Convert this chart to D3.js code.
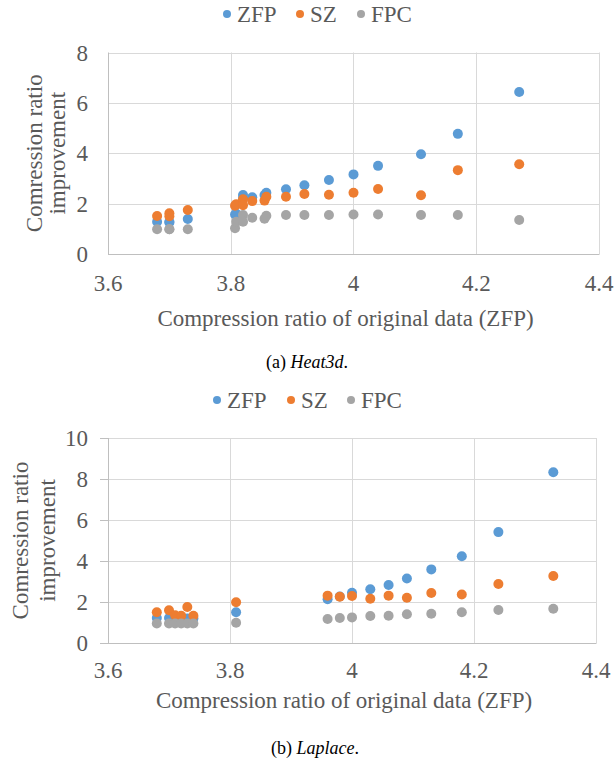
<!DOCTYPE html>
<html>
<head>
<meta charset="utf-8">
<script src="https://cdn.jsdelivr.net/npm/d3@7/dist/d3.min.js"></script>
<style>
  html, body { margin: 0; padding: 0; background: #fff; }
  svg { display: block; }
  text { font-family: "Liberation Serif", "Times New Roman", serif; }
</style>
</head>
<body>
<script>
// ---------- DATA ----------
const seriesNames = ["ZFP", "SZ", "FPC"];
const seriesColors = ["#5B9BD5", "#ED7D31", "#A5A5A5"];
const xTicks = [3.6, 3.8, 4.0, 4.2, 4.4];
const xTickLabels = ["3.6", "3.8", "4", "4.2", "4.4"];

// (a) Heat3d
const heatX   = [3.68, 3.70, 3.70, 3.73, 3.807, 3.809, 3.82, 3.82, 3.835, 3.855, 3.858, 3.89, 3.92, 3.96, 4.00, 4.04, 4.11, 4.17, 4.27];
const heatZFP = [1.28, 1.25, 1.28, 1.39, 1.57, 1.60, 2.34, 2.20, 2.25, 2.34, 2.43, 2.57, 2.73, 2.94, 3.16, 3.50, 3.96, 4.77, 6.43];
const heatSZ  = [1.51, 1.62, 1.50, 1.75, 1.92, 1.98, 2.17, 1.94, 2.10, 2.12, 2.27, 2.27, 2.38, 2.35, 2.43, 2.58, 2.33, 3.33, 3.56];
const heatFPC = [0.98, 0.98, 0.98, 0.98, 1.02, 1.28, 1.55, 1.28, 1.44, 1.40, 1.52, 1.55, 1.55, 1.55, 1.57, 1.57, 1.55, 1.55, 1.35];
const heatYTicks = [0, 2, 4, 6, 8];

// (b) Laplace
const lapX   = [3.68, 3.70, 3.71, 3.72, 3.73, 3.74, 3.81, 3.96, 3.98, 4.00, 4.03, 4.06, 4.09, 4.13, 4.18, 4.24, 4.33];
const lapZFP = [1.22, 1.22, 1.20, 1.20, 1.20, 1.20, 1.50, 2.13, 2.27, 2.45, 2.62, 2.83, 3.15, 3.59, 4.23, 5.41, 8.33];
const lapSZ  = [1.50, 1.60, 1.35, 1.33, 1.76, 1.33, 1.99, 2.31, 2.26, 2.29, 2.16, 2.31, 2.21, 2.44, 2.37, 2.88, 3.27];
const lapFPC = [0.95, 0.95, 0.95, 0.95, 0.95, 0.95, 0.99, 1.17, 1.22, 1.25, 1.32, 1.33, 1.40, 1.43, 1.50, 1.61, 1.67];
const lapYTicks = [0, 2, 4, 6, 8, 10];

const xTitle = "Compression ratio of original data (ZFP)";
const yTitleLines = ["Comression ratio", "improvement"];

// ---------- DRAW ----------
const W = 615, H = 769;
const svg = d3.select("body").append("svg").attr("width", W).attr("height", H);
const textColor = "#595959";
const gridColor = "#D9D9D9";
const axisColor = "#BFBFBF";
const fontSize = 23;

function drawChart(cfg) {
  const g = svg.append("g");
  const x = d3.scaleLinear().domain([3.6, 4.4]).range([cfg.left, cfg.right]);
  const y = d3.scaleLinear().domain([0, cfg.yMax]).range([cfg.bottom, cfg.top]);

  // horizontal gridlines
  g.append("g").selectAll("line").data(cfg.yTicks.filter(v => v > 0)).join("line")
    .attr("x1", cfg.left).attr("x2", cfg.right)
    .attr("y1", d => Math.round(y(d)) + 0.5).attr("y2", d => Math.round(y(d)) + 0.5)
    .attr("stroke", gridColor).attr("stroke-width", 1);
  // vertical gridlines
  g.append("g").selectAll("line").data(xTicks.filter(v => v > 3.6)).join("line")
    .attr("x1", d => Math.round(x(d)) + 0.5).attr("x2", d => Math.round(x(d)) + 0.5)
    .attr("y1", cfg.top).attr("y2", cfg.bottom)
    .attr("stroke", gridColor).attr("stroke-width", 1);
  // axis lines
  g.append("line").attr("x1", Math.round(cfg.left) + 0.5).attr("x2", Math.round(cfg.left) + 0.5)
    .attr("y1", cfg.top).attr("y2", cfg.bottom + 0.5).attr("stroke", axisColor);
  g.append("line").attr("x1", cfg.left).attr("x2", cfg.right + 0.5)
    .attr("y1", Math.round(cfg.bottom) + 0.5).attr("y2", Math.round(cfg.bottom) + 0.5).attr("stroke", axisColor);
  if (cfg.yTickMarks) {
    g.append("g").selectAll("line").data(cfg.yTicks).join("line")
      .attr("x1", cfg.left - 8).attr("x2", cfg.left)
      .attr("y1", d => Math.round(y(d)) + 0.5).attr("y2", d => Math.round(y(d)) + 0.5)
      .attr("stroke", axisColor);
  }

  // y tick labels
  g.append("g").selectAll("text").data(cfg.yTicks).join("text")
    .attr("x", cfg.yLabelX).attr("y", d => y(d)).attr("dy", "0.35em")
    .attr("text-anchor", "end").attr("fill", textColor).attr("font-size", fontSize)
    .text(d => String(d));
  // x tick labels
  g.append("g").selectAll("text").data(xTicks).join("text")
    .attr("x", d => x(d)).attr("y", cfg.xLabelY)
    .attr("text-anchor", "middle").attr("fill", textColor).attr("font-size", fontSize)
    .text((d, i) => xTickLabels[i]);
  // x title
  g.append("text").attr("x", (cfg.left + cfg.right) / 2 - 8).attr("y", cfg.xTitleY)
    .attr("text-anchor", "middle").attr("fill", textColor).attr("font-size", fontSize)
    .text(xTitle);
  // y title
  const cy = (cfg.top + cfg.bottom) / 2;
  yTitleLines.forEach((t, i) => {
    g.append("text").attr("transform", `translate(${cfg.yTitleX[i]},${cy}) rotate(-90)`)
      .attr("text-anchor", "middle").attr("fill", textColor).attr("font-size", fontSize)
      .text(t);
  });

  // points (series order: ZFP, SZ, FPC)
  cfg.series.forEach((vals, si) => {
    g.append("g").selectAll("circle").data(vals).join("circle")
      .attr("cx", (d, i) => x(cfg.xs[i])).attr("cy", d => y(d))
      .attr("r", 5).attr("fill", seriesColors[si]);
  });

  // legend
  const lg = g.append("g");
  seriesNames.forEach((n, i) => {
    lg.append("circle").attr("cx", cfg.legendX[i]).attr("cy", cfg.legendY).attr("r", 4)
      .attr("fill", seriesColors[i]);
    lg.append("text").attr("x", cfg.legendX[i] + 10).attr("y", cfg.legendY).attr("dy", "0.35em")
      .attr("fill", textColor).attr("font-size", fontSize).text(n);
  });

  // caption
  const cap = g.append("text").attr("x", cfg.captionX).attr("y", cfg.captionY)
    .attr("text-anchor", "middle").attr("fill", "#000").attr("font-size", 18);
  cap.append("tspan").text(cfg.captionPrefix + " ");
  cap.append("tspan").attr("font-style", "italic").text(cfg.captionName);
  cap.append("tspan").text(".");
}

drawChart({
  left: 108, right: 599, top: 52.5, bottom: 254, yMax: 8, yTicks: heatYTicks,
  yTickMarks: false, yLabelX: 88, xLabelY: 291, xTitleY: 326, yTitleX: [42, 65],
  xs: heatX, series: [heatZFP, heatSZ, heatFPC],
  legendX: [227, 300, 361], legendY: 14,
  captionX: 307, captionY: 368, captionPrefix: "(a)", captionName: "Heat3d"
});

drawChart({
  left: 108, right: 596, top: 438, bottom: 643, yMax: 10, yTicks: lapYTicks,
  yTickMarks: true, yLabelX: 88, xLabelY: 678, xTitleY: 708, yTitleX: [28, 55],
  xs: lapX, series: [lapZFP, lapSZ, lapFPC],
  legendX: [217, 291, 351], legendY: 400,
  captionX: 315, captionY: 754, captionPrefix: "(b)", captionName: "Laplace"
});
</script>
</body>
</html>
